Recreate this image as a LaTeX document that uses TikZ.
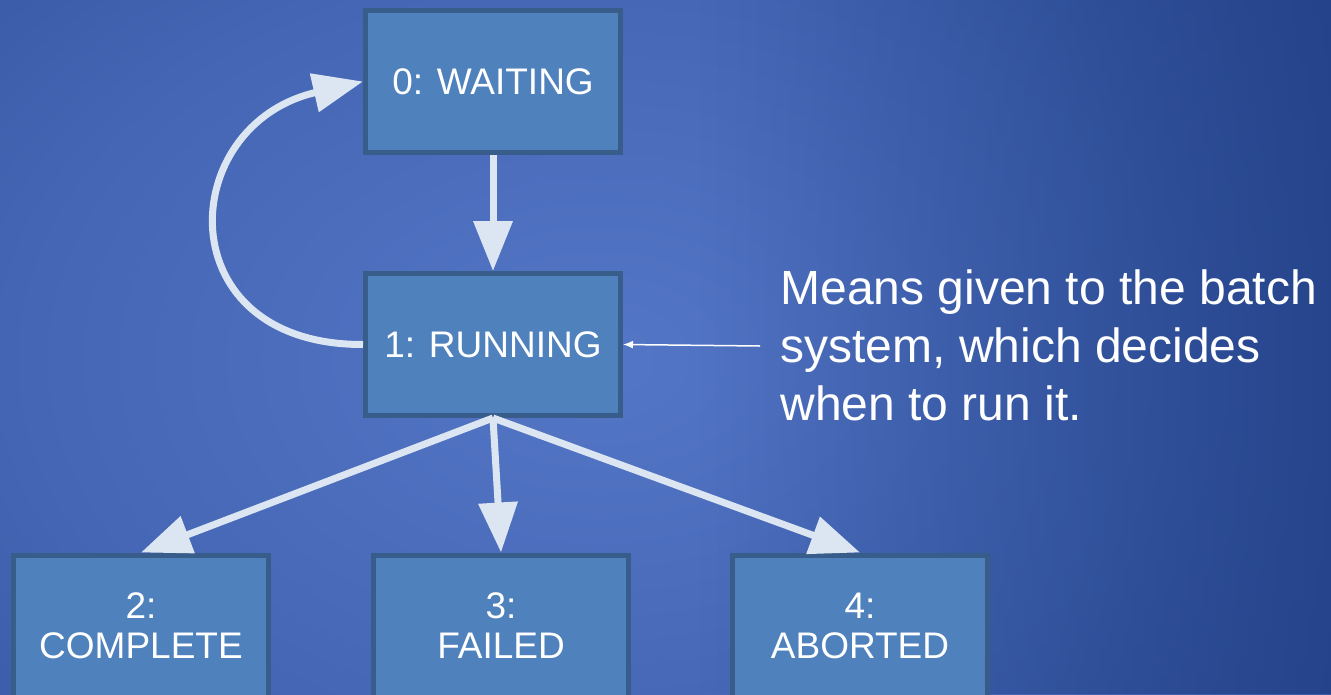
\documentclass[tikz,border=0pt]{standalone}
\usepackage{fontspec}
\setmainfont{Liberation Sans}
\usetikzlibrary{arrows.meta,fadings}
\definecolor{bgmid}{RGB}{84,118,198}
\definecolor{bgring}{RGB}{68,102,180}
\definecolor{bgedge}{RGB}{30,60,130}
\definecolor{boxfill}{RGB}{79,129,189}
\definecolor{boxline}{RGB}{56,93,138}
\definecolor{arrowcol}{RGB}{220,230,242}
\pgfdeclareradialshading{bgshade}{\pgfpoint{0bp}{0bp}}{color(0bp)=(bgmid); color(15bp)=(bgring); color(42bp)=(bgedge); color(50bp)=(bgedge)}
\tikzset{
  state/.style={draw=boxline, fill=boxfill, line width=5pt, minimum width=255pt,
    minimum height=142pt, text=white, align=center, font=\fontsize{37}{40}\selectfont},
  flow/.style={draw=arrowcol, line width=7pt, -{Triangle[length=50pt,width=38pt]}},
  note/.style={draw=white, line width=1.5pt, -{Latex[length=10pt,width=8pt]}}
}
\begin{document}
\begin{tikzpicture}[x=1pt,y=-1pt]
  \useasboundingbox (0,0) rectangle (1331,694);
  \clip (0,0) rectangle (1331,694);
  % background
  \shade[shading=bgshade] (-350,-290) rectangle (1550,1010);
  \fill[bgedge, path fading=west, fill opacity=0.75] (700,0) rectangle (1331,694);

  \node[state] (wait) at (493,81.5) {0: WAITING};
  \node[state] (run) at (493,344.5) {1: RUNNING};
  \node[state] (comp) at (141,626) {2:\\COMPLETE};
  \node[state] (fail) at (501,626) {3:\\FAILED};
  \node[state] (abort) at (860,626) {4:\\ABORTED};

  \node[anchor=west, text=white, align=left, font=\fontsize{48}{58}\selectfont] (info) at (777,345)
    {Means given to the batch\\system, which decides\\when to run it.};
  \coordinate (infoend) at (760,346);

  \draw[flow] (wait) -- (run);
  \draw[flow] (run.west) .. controls (166,345) and (175,125) .. (wait.west);
  \draw[flow] (run.south) -- (comp.north);
  \draw[flow] (run.south) -- (fail.north);
  \draw[flow] (run.south) -- (abort.north);
  \draw[note] (infoend) -- (run.east);
\end{tikzpicture}
\end{document}
